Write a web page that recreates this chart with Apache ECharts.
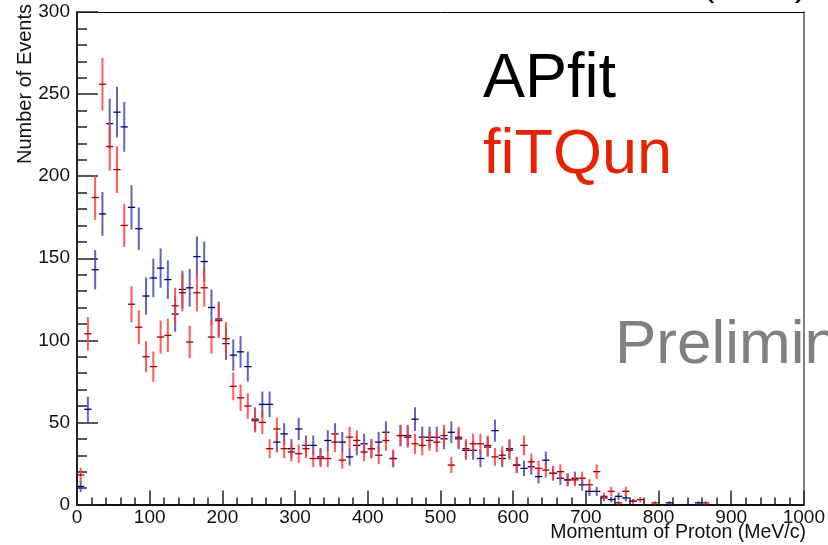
<!DOCTYPE html>
<html>
<head>
<meta charset="utf-8">
<script src="https://cdn.jsdelivr.net/npm/echarts@6/dist/echarts.min.js"></script>
<style>html,body{margin:0;padding:0;background:#fff;}#c{width:828px;height:545px;}</style>
</head>
<body>
<div id="c"></div>
<script>
// Bin centres (MeV/c), 10 MeV/c bins
const binCenters = [5,15,25,35,45,55,65,75,85,95,105,115,125,135,145,155,165,175,185,195,
  205,215,225,235,245,255,265,275,285,295,305,315,325,335,345,355,365,375,385,395,
  405,415,425,435,445,455,465,475,485,495,505,515,525,535,545,555,565,575,585,595,
  605,615,625,635,645,655,665,675,685,695,705,715,725,735,745,755,765,775,785,795,
  805,815,825,835,845,855,865];
// APfit (blue) counts per bin
const apfitCounts = [11,58,143,177,232,239,230,181,168,127,138,144,137,116,131,132,151,148,120,113,
  98,91,93,84,52,61,61,38,43,34,46,36,36,29,39,43,38,29,36,37,
  34,38,44,28,42,42,52,41,41,41,40,44,40,33,33,28,35,45,28,34,
  24,22,23,17,27,19,16,15,16,12,8,8,4,3,5,4,2,null,null,null,
  null,1,null,null,null,1,null];
// fiTQun (red) counts per bin
const fitqunCounts = [18,104,187,256,218,204,170,122,108,90,84,102,103,121,129,99,129,132,102,112,
  101,72,65,60,51,50,34,46,34,32,31,34,28,28,28,38,27,41,39,32,
  34,30,39,28,42,41,37,36,39,38,42,24,41,34,37,37,36,29,30,33,
  24,36,26,22,21,19,20,15,15,16,12,20,5,8,1,8,2,3,null,1,
  null,null,null,null,null,null,1];
const xTicks = [0,100,200,300,400,500,600,700,800,900,1000];
const yTicks = [0,50,100,150,200,250,300];
const halfBin = 5;

function buildData(counts){
  const out = [];
  counts.forEach((v,i)=>{ if(v!=null){ out.push([binCenters[i], v, Math.sqrt(v)]); } });
  return out;
}
function makeRender(vColor, hColor){
  return function(params, api){
    const x = api.value(0), v = api.value(1), e = api.value(2);
    const top = api.coord([x, v + e]);
    const bot = api.coord([x, Math.max(v - e, 0)]);
    const l = api.coord([x - halfBin, v]);
    const r = api.coord([x + halfBin, v]);
    return {type:'group', children:[
      {type:'line', shape:{x1:top[0], y1:top[1], x2:bot[0], y2:bot[1]}, style:{stroke:vColor, lineWidth:2}},
      {type:'line', shape:{x1:l[0], y1:l[1], x2:r[0], y2:r[1]}, style:{stroke:hColor, lineWidth:1.3}}
    ]};
  };
}

const chart = echarts.init(document.getElementById('c'), null, {renderer:'canvas'});
const fontFam = '"Liberation Sans", Arial, Helvetica, sans-serif';
chart.setOption({
  animation:false,
  backgroundColor:'#fff',
  grid:{left:77, top:12, width:730, height:492.5, show:false},
  xAxis:[{
    type:'value', min:xTicks[0], max:xTicks[xTicks.length-1], interval:100, position:'bottom',
    axisLine:{show:true, onZero:false, lineStyle:{color:'#111', width:2}},
    axisTick:{show:true, inside:true, length:14, lineStyle:{color:'#222', width:1.5}},
    minorTick:{show:true, splitNumber:5, length:7, lineStyle:{color:'#222', width:1.5}},
    axisLabel:{show:true, margin:4, fontSize:19, color:'#111', fontFamily:fontFam, formatter:(v)=>String(v)},
    splitLine:{show:false}
  },{
    type:'value', min:0, max:1000, position:'top',
    axisLine:{show:true, onZero:false, lineStyle:{color:'#000', width:1}},
    axisTick:{show:false}, axisLabel:{show:false}, splitLine:{show:false}
  }],
  yAxis:[{
    type:'value', min:yTicks[0], max:yTicks[yTicks.length-1], interval:50, position:'left',
    axisLine:{show:true, onZero:false, lineStyle:{color:'#222', width:2}},
    axisTick:{show:true, inside:true, length:21, lineStyle:{color:'#222', width:1.5}},
    minorTick:{show:true, splitNumber:5, length:10, lineStyle:{color:'#222', width:1.5}},
    axisLabel:{show:true, margin:7, fontSize:19, color:'#111', fontFamily:fontFam, formatter:(v)=>String(v)},
    splitLine:{show:false}
  },{
    type:'value', min:0, max:300, position:'right',
    axisLine:{show:true, onZero:false, lineStyle:{color:'#808080', width:2}},
    axisTick:{show:false}, axisLabel:{show:false}, splitLine:{show:false}
  }],
  series:[
    {name:'APfit', type:'custom', xAxisIndex:0, yAxisIndex:0, data:buildData(apfitCounts),
     renderItem:makeRender('rgba(70,70,185,0.85)','#00006a'), z:2},
    {name:'fiTQun', type:'custom', xAxisIndex:0, yAxisIndex:0, data:buildData(fitqunCounts),
     renderItem:makeRender('rgba(255,60,60,0.85)','#a00000'), z:3}
  ],
  graphic:{elements:[
    {type:'text', x:615, y:346, z:-10, style:{text:'Preliminary', font:'62px '+fontFam, fill:'#808080', align:'left', verticalAlign:'middle'}},
    {type:'text', x:483, y:80, z:10, style:{text:'APfit', font:'63px '+fontFam, fill:'#000', align:'left', verticalAlign:'middle'}},
    {type:'text', x:483, y:156, z:10, style:{text:'fiTQun', font:'63px '+fontFam, fill:'#e62200', align:'left', verticalAlign:'middle'}},
    {type:'text', x:806, y:533, z:10, style:{text:'Momentum of Proton (MeV/c)', font:'19.5px '+fontFam, fill:'#111', align:'right', verticalAlign:'middle'}},
    {type:'text', x:25, y:84, rotation:Math.PI/2, z:10, style:{text:'Number of Events', font:'20px '+fontFam, fill:'#111', align:'center', verticalAlign:'middle'}},
    {type:'text', x:703, y:-13, z:10, style:{text:'(', font:'34px '+fontFam, fill:'#000', align:'left', verticalAlign:'middle'}},
    {type:'text', x:795, y:-13, z:10, style:{text:')', font:'34px '+fontFam, fill:'#000', align:'left', verticalAlign:'middle'}}
  ]}
});
</script>
</body>
</html>
